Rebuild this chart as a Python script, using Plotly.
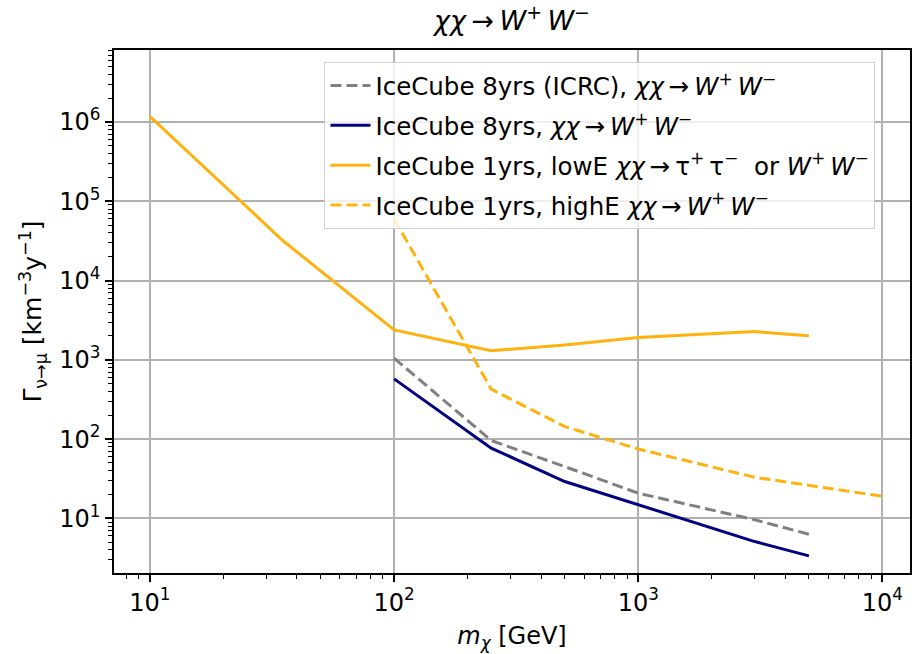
import plotly.graph_objects as go

# ---- data ----
mass_8yr = [100, 250, 500, 1000, 3000, 5000]
rate_8yr_icrc = [1050, 96, 45, 20.8, 9.6, 6.3]
rate_8yr = [575, 77, 29.2, 14.9, 5.1, 3.37]

mass_lowE = [10, 35, 100, 250, 500, 1000, 3000, 5000]
rate_lowE = [1.18e6, 3.2e4, 2390, 1300, 1545, 1910, 2275, 2010]

mass_highE = [100, 250, 500, 1000, 3000, 5000, 10000]
rate_highE = [6.0e4, 427, 144, 75, 33, 26, 19]

x_tickvals = [10, 100, 1000, 10000]
x_ticktext = ["10<sup>1</sup>", "10<sup>2</sup>", "10<sup>3</sup>", "10<sup>4</sup>"]
y_tickvals = [10, 100, 1000, 1e4, 1e5, 1e6]
y_ticktext = ["10<sup>1</sup>", "10<sup>2</sup>", "10<sup>3</sup>",
              "10<sup>4</sup>", "10<sup>5</sup>", "10<sup>6</sup>"]

TS = "\u2009"
ARROW = TS + "→" + TS
WW = "<i>χχ</i>" + ARROW + "<i>W</i><sup>+</sup>" + TS + "<i>W</i><sup>−</sup>"
names = [
    "IceCube 8yrs (ICRC), " + WW,
    "IceCube 8yrs, " + WW,
    "IceCube 1yrs, lowE <i>χχ</i>" + ARROW + "τ<sup>+</sup>" + TS + "τ<sup>−</sup>  or <i>W</i><sup>+</sup>" + TS + "<i>W</i><sup>−</sup>",
    "IceCube 1yrs, highE " + WW,
]

ORANGE = "#FFB10F"
NAVY = "#000080"
GRAY = "#808080"

fig = go.Figure()
fig.add_trace(go.Scatter(x=mass_8yr, y=rate_8yr_icrc, mode="lines", name=names[0], legendgroup="a",
                         line=dict(color=GRAY, width=3, dash="11px,5px")))
fig.add_trace(go.Scatter(x=mass_8yr, y=rate_8yr, mode="lines", name=names[1], legendgroup="b",
                         line=dict(color=NAVY, width=3)))
fig.add_trace(go.Scatter(x=mass_lowE, y=rate_lowE, mode="lines", name=names[2], legendgroup="c",
                         line=dict(color=ORANGE, width=3)))
fig.add_trace(go.Scatter(x=mass_highE, y=rate_highE, mode="lines", name=names[3], legendgroup="d",
                         line=dict(color=ORANGE, width=3, dash="11px,5px")))

minor_x = [m * 10 ** e for e in range(0, 5) for m in range(2, 10)]
minor_y = [m * 10 ** e for e in range(0, 7) for m in range(2, 10)]

FONT = "DejaVu Sans"
fig.update_layout(
    width=912, height=654,
    margin=dict(l=114, r=0, t=50, b=81),
    paper_bgcolor="white", plot_bgcolor="white",
    font=dict(family=FONT, size=23, color="black"),
    title=dict(text="<i>χχ</i>" + ARROW + "<i>W</i><sup>+</sup>" + TS + "<i>W</i><sup>−</sup>",
               x=0.5, xref="paper", xanchor="center",
               y=1 - 21 / 654, yanchor="middle", font=dict(size=27)),
    showlegend=True,
    legend=dict(x=0.2644, y=0.977, xanchor="left", yanchor="top",
                bgcolor="rgba(255,255,255,0.8)", bordercolor="#d0d0d0", borderwidth=1,
                font=dict(size=24.5), tracegroupgap=5, itemwidth=40),
)
fig.update_xaxes(
    type="log", range=[0.853, 4.113],
    tickvals=x_tickvals, ticktext=x_ticktext,
    ticks="outside", ticklen=7, tickwidth=1.5, tickcolor="black",
    showline=True, linecolor="black", linewidth=1.5, mirror=True,
    showgrid=True, gridcolor="#b0b0b0", gridwidth=1.5,
    minor=dict(tickvals=minor_x, ticks="outside", ticklen=4, tickwidth=1, tickcolor="black", showgrid=False),
    tickfont=dict(size=24),
    title=dict(text="<i>m<sub>χ</sub></i> [GeV]", font=dict(size=24), standoff=12),
    zeroline=False,
)
fig.update_yaxes(
    type="log", range=[0.311, 6.909],
    tickvals=y_tickvals, ticktext=y_ticktext,
    ticks="outside", ticklen=7, tickwidth=1.5, tickcolor="black",
    showline=True, linecolor="black", linewidth=1.5, mirror=True,
    showgrid=True, gridcolor="#b0b0b0", gridwidth=1.5,
    minor=dict(tickvals=minor_y, ticks="outside", ticklen=4, tickwidth=1, tickcolor="black", showgrid=False),
    tickfont=dict(size=24),
    title=dict(text="Γ<sub>ν→μ</sub> [km<sup>−3</sup>y<sup>−1</sup>]", font=dict(size=25), standoff=10),
    zeroline=False,
)

fig.write_html("out.html")
